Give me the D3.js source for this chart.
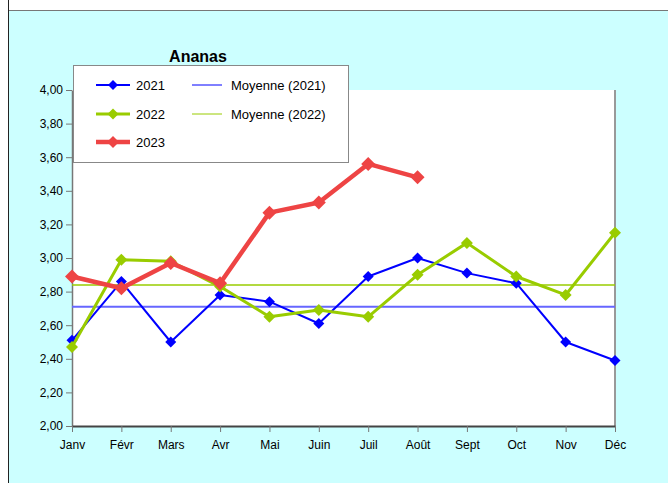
<!DOCTYPE html>
<html>
<head>
<meta charset="utf-8">
<script src="https://cdn.jsdelivr.net/npm/d3@7"></script>
<style>
  body { margin: 0; background: #fff; }
  svg { display: block; }
  text { font-family: "Liberation Sans", Arial, sans-serif; }
</style>
</head>
<body>
<div id="chart"></div>
<script>
// données
var mois = ["Janv", "Févr", "Mars", "Avr", "Mai", "Juin", "Juil", "Août", "Sept", "Oct", "Nov", "Déc"]
var prix2021 = [2.51, 2.86, 2.50, 2.78, 2.74, 2.61, 2.89, 3.00, 2.91, 2.85, 2.50, 2.39]
var prix2022 = [2.47, 2.99, 2.98, 2.83, 2.65, 2.69, 2.65, 2.90, 3.09, 2.89, 2.78, 3.15]
var prix2023 = [2.89, 2.82, 2.97, 2.85, 3.27, 3.33, 3.56, 3.48]
var moyenne2021 = 2.71
var moyenne2022 = 2.84
var yTicks = [2.0, 2.2, 2.4, 2.6, 2.8, 3.0, 3.2, 3.4, 3.6, 3.8, 4.0]

var W = 668, H = 483

var svg = d3.select("#chart")
    .append("svg")
    .attr("width", W)
    .attr("height", H)

// fond
svg.append("rect").attr("x", 0).attr("y", 0).attr("width", W).attr("height", H).style("fill", "#fff")
svg.append("rect").attr("x", 8).attr("y", 10).attr("width", W - 8).attr("height", H - 10).style("fill", "#CCFFFF")
svg.append("line").attr("x1", 8).attr("y1", 10.5).attr("x2", W).attr("y2", 10.5)
    .style("stroke", "#777").style("stroke-width", 1)
svg.append("line").attr("x1", 8.5).attr("y1", 0).attr("x2", 8.5).attr("y2", H)
    .style("stroke", "#222").style("stroke-width", 1)

var gauche = 72, droite = 615, haut = 90, bas = 426

var x = d3.scalePoint().domain(mois).range([gauche, droite])
var y = d3.scaleLinear().domain([2, 4]).range([bas, haut])

// zone du graphique
svg.append("rect")
    .attr("x", gauche).attr("y", haut)
    .attr("width", droite - gauche).attr("height", bas - haut)
    .style("fill", "#fff")

svg.append("line").attr("x1", droite).attr("y1", haut).attr("x2", droite).attr("y2", bas)
    .style("stroke", "#999").style("stroke-width", 2)

// axes
var yAxis = svg.append("g")
    .attr("transform", "translate(" + gauche + ",0)")
    .call(d3.axisLeft(y).tickValues(yTicks).tickSize(6).tickPadding(3).tickSizeOuter(0)
        .tickFormat(function(d) { return d3.format(".2f")(d).replace(".", ",") }))
yAxis.select(".domain").style("stroke", "#777").style("stroke-width", 1.5)
yAxis.selectAll(".tick line").style("stroke", "#777")
yAxis.selectAll("text").style("font-size", "12px").style("fill", "#000")
    .style("font-family", "'Liberation Sans', Arial, sans-serif")

var xAxis = svg.append("g")
    .attr("transform", "translate(0," + bas + ")")
    .call(d3.axisBottom(x).tickSize(6).tickPadding(8).tickSizeOuter(0))
xAxis.select(".domain").style("stroke", "#444").style("stroke-width", 2)
xAxis.selectAll(".tick line").style("stroke", "#777")
xAxis.selectAll("text").style("font-size", "12px").style("fill", "#000")
    .style("font-family", "'Liberation Sans', Arial, sans-serif")

// moyennes
svg.append("line")
    .attr("x1", gauche).attr("x2", droite)
    .attr("y1", y(moyenne2022)).attr("y2", y(moyenne2022))
    .style("stroke", "#99CC00").style("stroke-width", 1.5)
svg.append("line")
    .attr("x1", gauche).attr("x2", droite)
    .attr("y1", y(moyenne2021)).attr("y2", y(moyenne2021))
    .style("stroke", "#6666FF").style("stroke-width", 2)

var ligne = d3.line()
    .x(function(d, i) { return x(mois[i]) })
    .y(function(d) { return y(d) })

function diamond(r) {
    return "M0," + (-r) + "L" + r + ",0L0," + r + "L" + (-r) + ",0Z"
}

function serie(data, color, width, r) {
    svg.append("path")
        .datum(data)
        .attr("d", ligne)
        .style("fill", "none")
        .style("stroke", color)
        .style("stroke-width", width)
        .style("stroke-linejoin", "round")
    svg.selectAll(null)
        .data(data)
        .enter()
        .append("path")
        .attr("d", diamond(r))
        .attr("transform", function(d, i) { return "translate(" + x(mois[i]) + "," + y(d) + ")" })
        .style("fill", color)
}

serie(prix2021, "#0000FF", 2, 5.5)
serie(prix2022, "#99CC00", 3, 6)
serie(prix2023, "#EE4444", 4.5, 7)

// titre
svg.append("text")
    .attr("x", 198).attr("y", 62)
    .attr("text-anchor", "middle")
    .text("Ananas")
    .style("font-size", "16px")
    .style("font-weight", "bold")

// légende
svg.append("rect")
    .attr("x", 73.5).attr("y", 65.5).attr("width", 275).attr("height", 97)
    .style("fill", "#fff").style("stroke", "#888").style("stroke-width", 1)

var items = [
    { label: "2021", color: "#0000FF", w: 2, r: 5, mark: true, cx: 96, cy: 85 },
    { label: "2022", color: "#99CC00", w: 3, r: 5.5, mark: true, cx: 96, cy: 114 },
    { label: "2023", color: "#EE4444", w: 4.5, r: 6, mark: true, cx: 96, cy: 142 },
    { label: "Moyenne (2021)", color: "#0000FF", w: 1, mark: false, cx: 192, cy: 85 },
    { label: "Moyenne (2022)", color: "#99CC00", w: 1, mark: false, cx: 192, cy: 114 }
]
items.forEach(function(it) {
    var l = it.mark ? 34 : 30
    svg.append("line")
        .attr("x1", it.cx).attr("x2", it.cx + l)
        .attr("y1", it.cy).attr("y2", it.cy)
        .style("stroke", it.color).style("stroke-width", it.w)
    if (it.mark) {
        svg.append("path")
            .attr("d", diamond(it.r))
            .attr("transform", "translate(" + (it.cx + l / 2) + "," + it.cy + ")")
            .style("fill", it.color)
    }
    svg.append("text")
        .attr("x", it.mark ? it.cx + 40 : it.cx + 39)
        .attr("y", it.cy + 4.5)
        .text(it.label)
        .style("font-size", "13px")
})
</script>
</body>
</html>
